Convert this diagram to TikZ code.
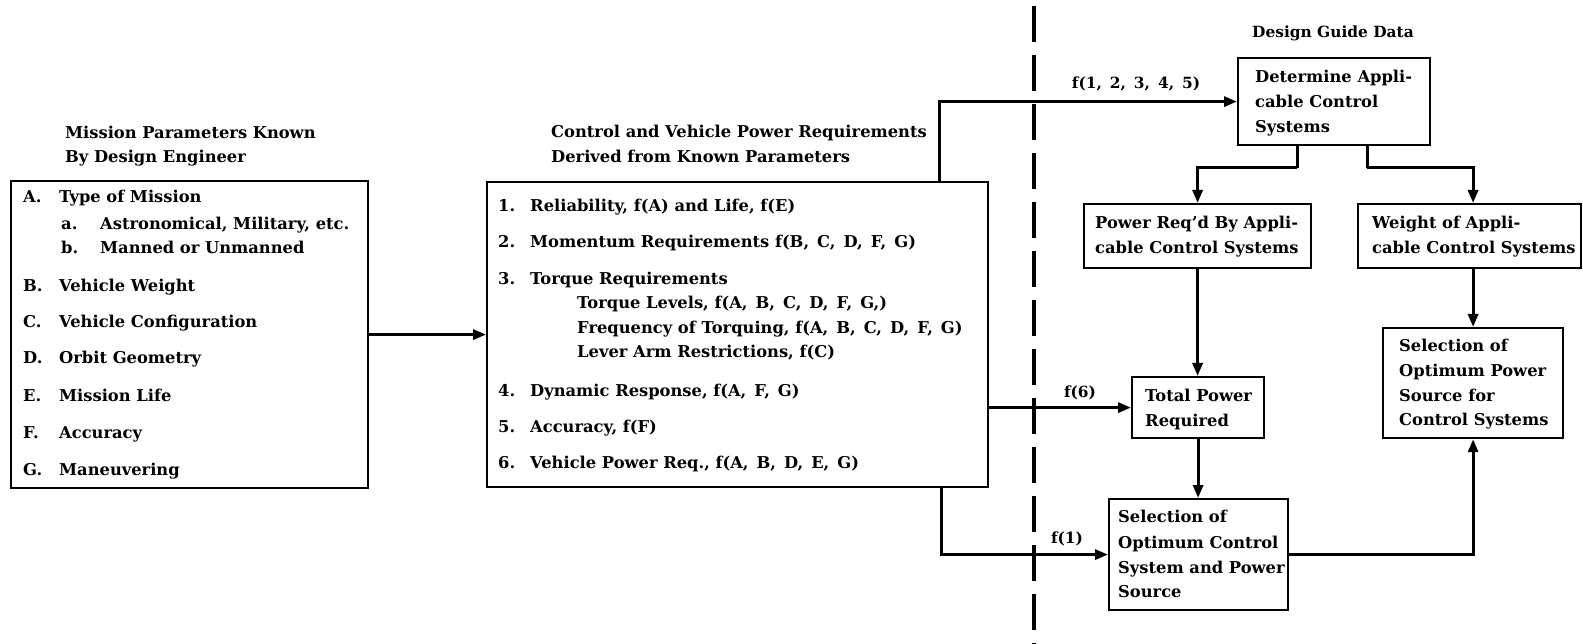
\documentclass[tikz,border=0pt]{standalone}
\usepackage{fontspec}
\setmainfont{DejaVu Serif}
\usetikzlibrary{arrows.meta}
\newcommand\cc{,\hspace{8pt}}
\begin{document}
\begin{tikzpicture}[x=1pt,y=-1pt,
  box/.style={draw, line width=2.2pt, inner sep=0pt, anchor=north west},
  txt/.style={anchor=base west, inner sep=0pt, font=\fontsize{16.3}{19}\selectfont\bfseries},
  lbl/.style={anchor=base, inner sep=0pt, font=\fontsize{15.4}{18}\selectfont\bfseries},
  conn/.style={line width=3pt, line join=miter, -{Triangle[length=13pt,width=10pt]}},
  plain/.style={line width=3pt, line join=miter},
  sep/.style={line width=3.5pt, dash pattern=on 36pt off 13pt, dash phase=-6pt}
]
\useasboundingbox (0,0) rectangle (1583,644);

% boxes
\node[box, minimum width=357pt, minimum height=307pt] (A) at (10,180) {};
\node[box, minimum width=501pt, minimum height=305pt] (B) at (486,181) {};
\node[box, minimum width=192pt, minimum height=87pt] (D) at (1237,57) {};
\node[box, minimum width=227pt, minimum height=64pt] (P) at (1083,203) {};
\node[box, minimum width=223pt, minimum height=64pt] (W) at (1357,203) {};
\node[box, minimum width=132pt, minimum height=61pt] (T) at (1131,376) {};
\node[box, minimum width=179pt, minimum height=111pt] (S) at (1108,498) {};
\node[box, minimum width=180pt, minimum height=110pt] (O) at (1382,327) {};

% titles
\node[txt] (tA1) at (65,139) {Mission Parameters Known};
\node[txt] (tA2) at (65,163) {By Design Engineer};
\node[txt] (tB1) at (551,138) {Control and Vehicle Power Requirements};
\node[txt] (tB2) at (551,163) {Derived from Known Parameters};
\node[lbl] (tG) at (1333,38) {Design Guide Data};

% box A contents
\node[txt] (a1) at (23,203) {A.};  \node[txt] (a1t) at (59,203) {Type of Mission};
\node[txt] (a2) at (61,230) {a.};  \node[txt] (a2t) at (100,230) {Astronomical, Military, etc.};
\node[txt] (a3) at (61,254) {b.};  \node[txt] (a3t) at (100,254) {Manned or Unmanned};
\node[txt] (a4) at (23,292) {B.};  \node[txt] (a4t) at (59,292) {Vehicle Weight};
\node[txt] (a5) at (23,328) {C.};  \node[txt] (a5t) at (59,328) {Vehicle Configuration};
\node[txt] (a6) at (23,364) {D.};  \node[txt] (a6t) at (59,364) {Orbit Geometry};
\node[txt] (a7) at (23,402) {E.};  \node[txt] (a7t) at (59,402) {Mission Life};
\node[txt] (a8) at (23,438) {F.};  \node[txt] (a8t) at (59,438) {Accuracy};
\node[txt] (a9) at (23,475) {G.};  \node[txt] (a9t) at (59,475) {Maneuvering};

% box B contents
\node[txt] (b1) at (498,212) {1.}; \node[txt] (b1t) at (530,212) {Reliability, f(A) and Life, f(E)};
\node[txt] (b2) at (498,248) {2.}; \node[txt] (b2t) at (530,248) {Momentum Requirements f(B\cc C\cc D\cc F\cc G)};
\node[txt] (b3) at (498,285) {3.}; \node[txt] (b3t) at (530,285) {Torque Requirements};
\node[txt] (b3a) at (577,309) {Torque Levels, f(A\cc B\cc C\cc D\cc F\cc G,)};
\node[txt] (b3b) at (577,334) {Frequency of Torquing, f(A\cc B\cc C\cc D\cc F\cc G)};
\node[txt] (b3c) at (577,358) {Lever Arm Restrictions, f(C)};
\node[txt] (b4) at (498,396) {4.}; \node[txt] (b4t) at (530,396) {Dynamic Response, f(A\cc F\cc G)};
\node[txt] (b5) at (498,432) {5.}; \node[txt] (b5t) at (530,432) {Accuracy, f(F)};
\node[txt] (b6) at (498,468) {6.}; \node[txt] (b6t) at (530,468) {Vehicle Power Req., f(A\cc B\cc D\cc E\cc G)};

% small box texts
\node[txt] (d1) at (1255,83) {Determine Appli-};
\node[txt] (d2) at (1255,108) {cable Control};
\node[txt] (d3) at (1255,133) {Systems};
\node[txt] (p1) at (1095,229) {Power Req'd By Appli-};
\node[txt] (p2) at (1095,254) {cable Control Systems};
\node[txt] (w1) at (1372,229) {Weight of Appli-};
\node[txt] (w2) at (1372,254) {cable Control Systems};
\node[txt] (t1) at (1145,401) {Total Power};
\node[txt] (t2) at (1145,426) {Required};
\node[txt] (s1) at (1118,522) {Selection of};
\node[txt] (s2) at (1118,548) {Optimum Control};
\node[txt] (s3) at (1118,573) {System and Power};
\node[txt] (s4) at (1118,597) {Source};
\node[txt] (o1) at (1399,352) {Selection of};
\node[txt] (o2) at (1399,377) {Optimum Power};
\node[txt] (o3) at (1399,401) {Source for};
\node[txt] (o4) at (1399,425) {Control Systems};

% connector labels
\node[lbl] (f1) at (1136,89) {f(1\cc 2\cc 3\cc 4\cc 5)};
\node[lbl] (f6) at (1080,398) {f(6)};
\node[lbl] (f7) at (1067,543) {f(1)};

% separator
\coordinate (sTop) at (1034,0);
\coordinate (sBot) at (1034,644);
\draw[sep] (sTop) -- (sBot);

% connectors
\coordinate (up) at (939,100);
\coordinate (dl) at (1297,168);
\coordinate (dr) at (1367,168);
\coordinate (low) at (941,553);
\draw[conn] (A.east) -- (B.west);
\draw[conn] (B.north -| up) |- (D.west);
\draw[plain] (D.south -| dl) -- (dl);
\draw[conn] (dl) -| (P.north);
\draw[plain] (D.south -| dr) -- (dr);
\draw[conn] (dr) -| (O.north |- W.north);
\draw[conn] (P.south) -- (P.south |- T.north);
\draw[conn] (O.north |- W.south) -- (O.north);
\draw[conn] (B.east |- T.west) -- (T.west);
\draw[conn] (T.south) -- (T.south |- S.north);
\draw[conn] (B.south -| low) |- (S.west);
\draw[conn] (S.east) -| (O.south);
\end{tikzpicture}
\end{document}
